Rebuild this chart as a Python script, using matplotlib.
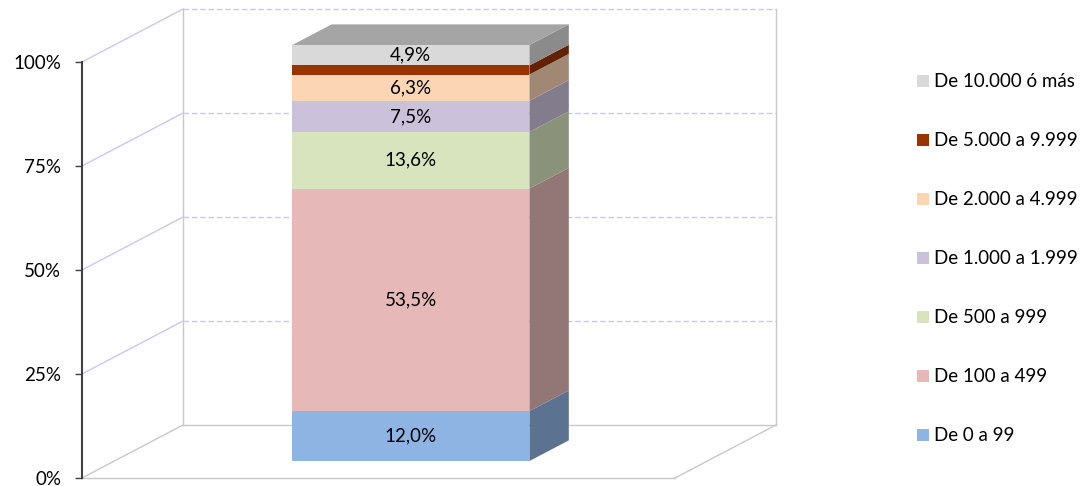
import matplotlib
matplotlib.use("Agg")
import matplotlib.pyplot as plt
from matplotlib.patches import Polygon, Patch
import numpy as np

plt.rcParams['font.family'] = ['Lato', 'DejaVu Sans']

# ---- data ----
categories = ["De 0 a 99", "De 100 a 499", "De 500 a 999", "De 1.000 a 1.999",
              "De 2.000 a 4.999", "De 5.000 a 9.999", "De 10.000 ó más"]
values = [12.0, 53.5, 13.6, 7.5, 6.3, 2.2, 4.9]
show_label = [True, True, True, True, True, False, True]
front_colors = ["#8eb4e3", "#e6b9b8", "#d7e4bd", "#ccc1da", "#fcd5b5", "#993300", "#d9d9d9"]
yticks = [0, 25, 50, 75, 100]
ytick_labels = ["0%", "25%", "50%", "75%", "100%"]

# ---- geometry (oblique 3D projection) ----
W, H = 1084, 486
fig = plt.figure(figsize=(W / 100, H / 100), dpi=100)
ax = fig.add_axes([82 / W, (H - 478) / H, 593 / W, 416 / H])
ax.set_xlim(0, 1)
ax.set_ylim(0, 100)

DX = 101 / 593          # depth shift in x (axes units) at full depth
DY = 53 / 416 * 100     # depth shift in y (percent units) at full depth
z0, z1 = 0.32, 0.71     # bar depth span
bar_x, bar_w = 0.5, 0.4
FS = 13.5


def proj(x, y, z):
    return (x + z * DX, y + z * DY)


grid_col = "#c8c8f4"
frame_col = "#c8c8c8"

# back wall grid (dashed) and left wall grid
for v in yticks:
    if v == 0:
        continue
    xs, ys = zip(proj(0, v, 1), proj(1, v, 1))
    ax.plot(xs, ys, color=grid_col, lw=1.0, ls=(0, (4, 2)), clip_on=False, zorder=1)
    xs, ys = zip(proj(0, v, 0), proj(0, v, 1))
    ax.plot(xs, ys, color=grid_col, lw=1.0, clip_on=False, zorder=1)

# frame: back verticals and floor
for seg in [
    (proj(0, 0, 1), proj(0, 100, 1)),
    (proj(1, 0, 1), proj(1, 100, 1)),
    (proj(0, 0, 1), proj(1, 0, 1)),
    (proj(0, 0, 0), proj(1, 0, 0)),
    (proj(0, 0, 0), proj(0, 0, 1)),
    (proj(1, 0, 0), proj(1, 0, 1)),
]:
    xs, ys = zip(*seg)
    ax.plot(xs, ys, color=frame_col, lw=1.0, clip_on=False, zorder=1)


def darker(c, f):
    r, g, b = matplotlib.colors.to_rgb(c)
    return (r * f, g * f, b * f)


# stacked bar: front face via ax.bar, side/top faces via projection
bottoms = np.concatenate([[0], np.cumsum(values)[:-1]])
fx, fy = proj(bar_x, 0, z0)
bars = ax.bar([fx] * len(values), values, bottom=bottoms + (fy), width=bar_w,
              color=front_colors, zorder=3, clip_on=False, linewidth=0)

xr = bar_x + bar_w / 2
xl = bar_x - bar_w / 2
for b, v, c in zip(bottoms, values, front_colors):
    side = [proj(xr, b, z0), proj(xr, b, z1), proj(xr, b + v, z1), proj(xr, b + v, z0)]
    ax.add_patch(Polygon(side, closed=True, facecolor=darker(c, 0.64),
                         edgecolor='none', zorder=2.5, clip_on=False))
top = sum(values)
top_face = [proj(xl, top, z0), proj(xr, top, z0), proj(xr, top, z1), proj(xl, top, z1)]
ax.add_patch(Polygon(top_face, closed=True, facecolor=darker(front_colors[-1], 0.76),
                     edgecolor='none', zorder=2.5, clip_on=False))

# data labels
for b, v, s in zip(bottoms, values, show_label):
    if not s:
        continue
    lx, ly = proj(bar_x, b + v / 2, z0)
    ax.text(lx, ly, f"{v:.1f}%".replace(".", ","), ha="center", va="center",
            fontsize=FS, color="#000000", zorder=4)

# axes styling
for sp in ["top", "right", "bottom"]:
    ax.spines[sp].set_visible(False)
ax.spines["left"].set_color("#404040")
ax.spines["left"].set_linewidth(1.5)
ax.set_xticks([])
ax.set_yticks(yticks)
ax.set_yticklabels(ytick_labels, fontsize=FS)
ax.tick_params(axis="y", length=5, width=1, color="#404040", pad=10)
ax.patch.set_visible(False)

# legend
handles = [Patch(facecolor=c, edgecolor='none') for c in front_colors][::-1]
fig.legend(handles, categories[::-1], loc="upper left",
           bbox_to_anchor=(908 / W, 1 - 64 / H), frameon=False, fontsize=FS,
           handlelength=0.6, handleheight=0.6, handletextpad=0.3,
           labelspacing=2.24, borderpad=0)

fig.savefig("out.png", dpi=100)
